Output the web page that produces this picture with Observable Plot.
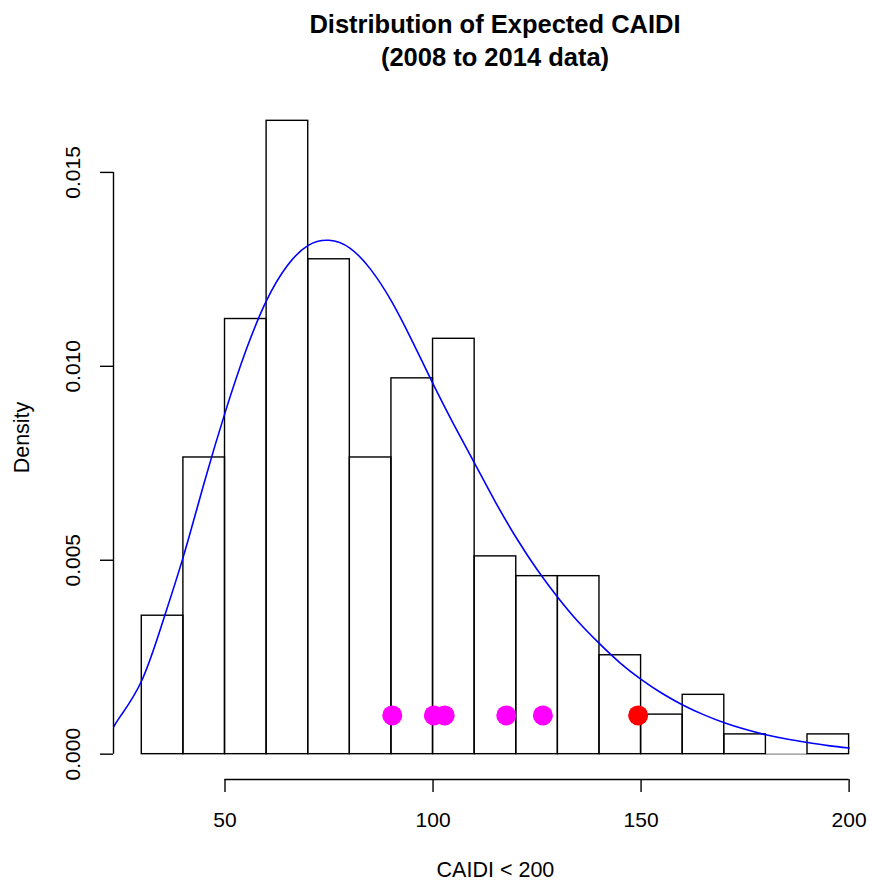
<!DOCTYPE html>
<html>
<head>
<meta charset="utf-8">
<script src="https://cdn.jsdelivr.net/npm/d3@7"></script>
<script src="https://cdn.jsdelivr.net/npm/@observablehq/plot@0.6"></script>
<style>
  html, body { margin: 0; padding: 0; background: #fff; overflow: hidden; }
  #wrap { width: 869px; height: 883px; position: relative; font-family: "Liberation Sans", Arial, Helvetica, sans-serif; }
  #title { margin-left: 121px; width: 748px; height: 90px; box-sizing: border-box; padding-top: 8px;
           text-align: center; font-weight: bold; font-size: 25.5px; line-height: 33px; color: #000; }
  #chart svg { display: block; }
</style>
</head>
<body>
<div id="wrap">
  <div id="title">Distribution of Expected CAIDI<br>(2008 to 2014 data)</div>
  <div id="chart"></div>
</div>
<script>
// Histogram bins (break points) and densities
const binEdges = [30, 40, 50, 60, 70, 80, 90, 100, 110, 120, 130, 140, 150, 160, 170, 180, 190, 200];
const densities = [0.00357, 0.00765, 0.01122, 0.01633, 0.01276, 0.00765, 0.00969, 0.01071,
                   0.00510, 0.00459, 0.00459, 0.00255, 0.00102, 0.00153, 0.00051, 0, 0.00051];

// Fitted density curve
const curveX = [23.2, 25, 30, 35, 40, 45, 50, 55, 60, 65, 70, 75, 80, 85, 90, 95, 100, 105, 110, 115, 120,
                125, 130, 135, 140, 145, 150, 155, 160, 165, 170, 175, 180, 185, 190, 195, 200];
const curveY = [0.0007, 0.0010, 0.0019, 0.0034, 0.0051, 0.0070, 0.0088, 0.0104, 0.0117, 0.0126, 0.01312, 0.01325,
                0.01305, 0.01250, 0.01168, 0.01065, 0.00955, 0.00850, 0.00750, 0.00650, 0.00558, 0.00476, 0.00404,
                0.00340, 0.00285, 0.00235, 0.00193, 0.00157, 0.00127, 0.00102, 0.00081, 0.00064, 0.00050, 0.00039,
                0.00030, 0.00022, 0.00016];

// Marker points
const magentaX = [90.2, 100.2, 102.8, 117.6, 126.4];
const redX = [149.3];
const markerLevel = 0.001;

// Axis ticks and labels
const xTicks = [50, 100, 150, 200];
const yTicks = [0, 0.005, 0.010, 0.015];
const xLabel = "CAIDI < 200";
const yLabel = "Density";

const xDomain = [23.2, 204.9];
const yDomain = [-0.000653, 0.016983];

const bins = densities.map((d, i) => ({x1: binEdges[i], x2: binEdges[i + 1], density: d}));
const emptyBins = bins.filter(d => d.density === 0);
const curve = curveX.map((x, i) => ({x, y: curveY[i]}));
const magenta = magentaX.map(x => ({x, y: markerLevel}));
const red = redX.map(x => ({x, y: markerLevel}));

const fmt = d3.format(".3f");

const chart = Plot.plot({
  width: 869,
  height: 793,
  marginTop: 5,
  marginBottom: 104,
  marginLeft: 113,
  marginRight: 0,
  style: {fontFamily: '"Liberation Sans", Arial, Helvetica, sans-serif', fontSize: "21px", color: "#000", background: "#fff", overflow: "visible"},
  x: {type: "linear", domain: xDomain, axis: null},
  y: {type: "linear", domain: yDomain, axis: null},
  marks: [
    Plot.rectY(bins, {x1: "x1", x2: "x2", y: "density", fill: "none", stroke: "#000", strokeWidth: 1.4}),
    Plot.ruleY(emptyBins, {y: 0, x1: "x1", x2: "x2", stroke: "#000", strokeOpacity: 0.45, strokeWidth: 1.4}),
    Plot.line(curve, {x: "x", y: "y", stroke: "#0000FF", strokeWidth: 1.6, curve: "natural", clip: true}),
    Plot.dot(magenta, {x: "x", y: "y", r: 10, fill: "#FF00FF", stroke: "none"}),
    Plot.dot(red, {x: "x", y: "y", r: 10, fill: "#FF0000", stroke: "none"}),
    // x axis
    Plot.ruleY([yDomain[0]], {x1: xTicks[0], x2: xTicks[xTicks.length - 1], stroke: "#000", strokeWidth: 1.4}),
    Plot.axisX({ticks: xTicks, tickSize: 13, tickPadding: 20, tickFormat: d => String(d), label: null, strokeWidth: 1.4, fontSize: 21}),
    // y axis
    Plot.ruleX([xDomain[0]], {y1: yTicks[0], y2: yTicks[yTicks.length - 1], stroke: "#000", strokeWidth: 1.4}),
    Plot.axisY({ticks: yTicks, tickSize: 13, text: null, label: null, strokeWidth: 1.4}),
    Plot.text(yTicks, {y: d => d, frameAnchor: "left", dx: -40, rotate: -90, text: d => fmt(d), lineAnchor: "middle", textAnchor: "middle", fontSize: 21, fill: "#000"}),
    // axis titles
    Plot.text([xLabel], {x: (23.2 + 206.8) / 2, frameAnchor: "bottom", dy: 91, text: d => d, lineAnchor: "middle", textAnchor: "middle", fontSize: 21.5, fill: "#000"}),
    Plot.text([yLabel], {y: (yDomain[0] + yDomain[1]) / 2, frameAnchor: "left", dx: -91, rotate: -90, text: d => d, lineAnchor: "middle", textAnchor: "middle", fontSize: 21.5, fill: "#000"})
  ]
});
document.getElementById("chart").appendChild(chart);
</script>
</body>
</html>
